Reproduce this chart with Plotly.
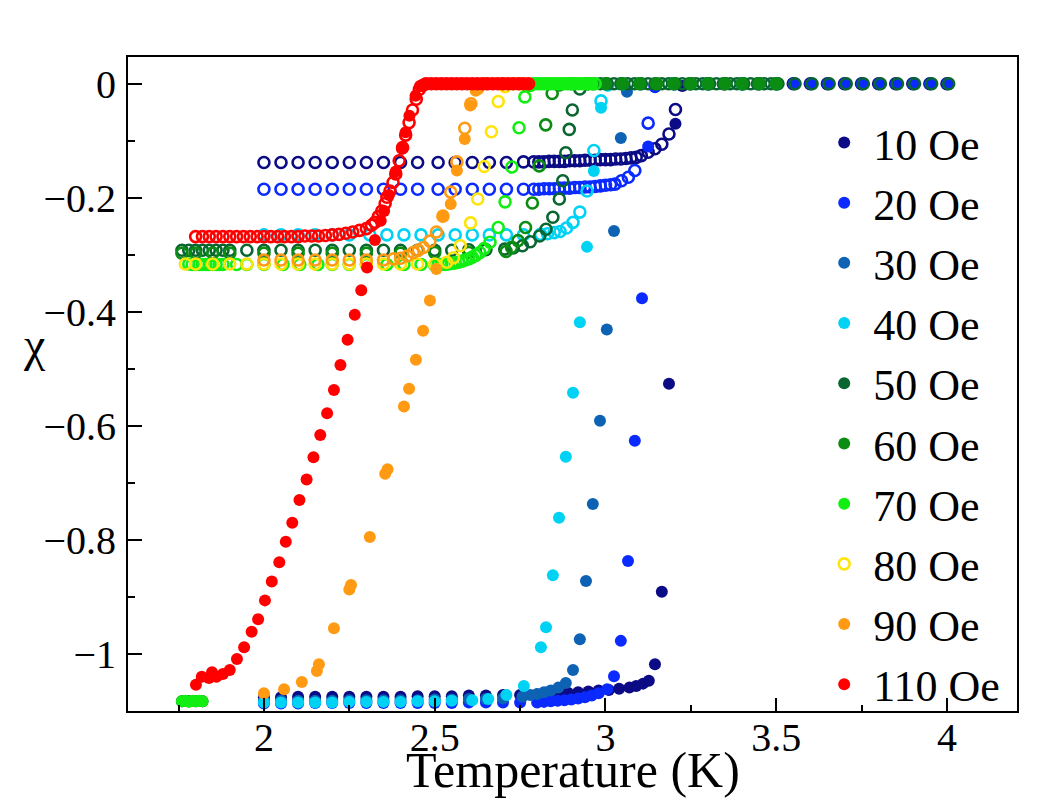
import plotly.graph_objects as go

# ---------------- data (T in K, chi) ----------------
fields = ["10 Oe", "20 Oe", "30 Oe", "40 Oe", "50 Oe", "60 Oe", "70 Oe", "80 Oe", "90 Oe", "110 Oe"]
colors = ["#0b0b85", "#0a2aff", "#0e62b4", "#00d2f4", "#0a6631", "#0b8c12", "#12ee12", "#ffe40a", "#ff9a12", "#ff0000"]

# zero-field-cooled (filled symbols)
zfc_10 = [(2.00,-1.076),(2.05,-1.076),(2.10,-1.075),(2.15,-1.075),(2.20,-1.075),(2.25,-1.075),(2.30,-1.075),(2.35,-1.075),(2.40,-1.075),(2.45,-1.074),(2.50,-1.074),(2.55,-1.074),(2.60,-1.073),(2.65,-1.073),(2.70,-1.072),(2.75,-1.072),(2.80,-1.071),(2.83,-1.070),(2.86,-1.069),(2.89,-1.068),(2.92,-1.067),(2.95,-1.066),(2.98,-1.064),(3.01,-1.063),(3.04,-1.061),(3.07,-1.059),(3.09,-1.056),(3.11,-1.052),(3.127,-1.047),(3.145,-1.018),(3.165,-0.891),(3.186,-0.526),(3.205,-0.070),(3.225,-0.004),(3.30,0.0),(3.40,0.0),(3.50,0.0),(3.55,0.0),(3.60,0.0),(3.65,0.0),(3.70,0.0),(3.75,0.0),(3.80,0.0),(3.85,0.0),(3.90,0.0),(3.95,0.0),(4.00,0.0)]
zfc_20 = [(2.00,-1.087),(2.05,-1.087),(2.10,-1.087),(2.15,-1.086),(2.20,-1.086),(2.25,-1.086),(2.30,-1.086),(2.35,-1.086),(2.40,-1.086),(2.45,-1.086),(2.50,-1.086),(2.55,-1.086),(2.60,-1.085),(2.65,-1.085),(2.70,-1.085),(2.75,-1.085),(2.80,-1.085),(2.82,-1.084),(2.84,-1.083),(2.86,-1.082),(2.88,-1.081),(2.90,-1.080),(2.92,-1.078),(2.94,-1.076),(2.96,-1.073),(2.98,-1.069),(3.005,-1.062),(3.025,-1.039),(3.045,-0.977),(3.066,-0.837),(3.086,-0.626),(3.107,-0.376),(3.125,-0.110),(3.145,-0.006),(3.20,0.0),(3.30,0.0),(3.40,0.0),(3.50,0.0),(3.55,0.0),(3.60,0.0),(3.65,0.0),(3.70,0.0),(3.75,0.0),(3.80,0.0),(3.85,0.0),(3.90,0.0),(3.95,0.0),(4.00,0.0)]
zfc_30 = [(2.00,-1.082),(2.05,-1.082),(2.10,-1.082),(2.15,-1.082),(2.20,-1.082),(2.25,-1.081),(2.30,-1.081),(2.35,-1.081),(2.40,-1.081),(2.45,-1.081),(2.50,-1.080),(2.55,-1.080),(2.60,-1.079),(2.65,-1.079),(2.70,-1.078),(2.757,-1.075),(2.78,-1.072),(2.80,-1.070),(2.82,-1.067),(2.84,-1.064),(2.862,-1.059),(2.884,-1.051),(2.905,-1.028),(2.925,-0.974),(2.943,-0.872),(2.963,-0.737),(2.984,-0.591),(3.004,-0.431),(3.025,-0.258),(3.045,-0.095),(3.063,-0.014),(3.10,0.0),(3.20,0.0),(3.30,0.0),(3.40,0.0),(3.50,0.0)]
zfc_40 = [(2.00,-1.085),(2.05,-1.085),(2.10,-1.085),(2.15,-1.085),(2.20,-1.085),(2.25,-1.084),(2.30,-1.084),(2.35,-1.084),(2.40,-1.084),(2.45,-1.083),(2.50,-1.083),(2.55,-1.082),(2.61,-1.081),(2.657,-1.079),(2.71,-1.072),(2.761,-1.056),(2.811,-0.988),(2.826,-0.953),(2.846,-0.862),(2.864,-0.761),(2.884,-0.654),(2.905,-0.542),(2.925,-0.418),(2.946,-0.286),(2.966,-0.153),(2.987,-0.042),(3.007,-0.003),(3.05,0.0),(3.10,0.0),(3.20,0.0),(3.30,0.0),(3.40,0.0),(3.50,0.0)]
zfc_50 = [(1.76,-1.083),(1.78,-1.083),(1.80,-1.083),(1.82,-1.083),(2.95,0.0),(3.00,0.0),(3.05,0.0),(3.10,0.0),(3.15,0.0),(3.20,0.0),(3.25,0.0),(3.30,0.0),(3.35,0.0),(3.40,0.0),(3.45,0.0),(3.50,0.0)]
zfc_60 = [(1.76,-1.083),(1.78,-1.083),(1.80,-1.083),(1.82,-1.083),(2.88,0.0),(2.92,0.0),(2.96,0.0),(3.00,0.0),(3.05,0.0),(3.10,0.0),(3.15,0.0),(3.20,0.0),(3.25,0.0),(3.30,0.0),(3.35,0.0),(3.40,0.0),(3.45,0.0),(3.50,0.0)]
zfc_70 = [(1.76,-1.083),(1.77,-1.082),(1.78,-1.084),(1.79,-1.082),(1.80,-1.083),(1.81,-1.082),(1.82,-1.083),(2.78,0.0),(2.80,0.0),(2.82,0.0),(2.84,0.0),(2.86,0.0),(2.88,0.0),(2.90,0.0),(2.92,0.0),(2.94,0.0),(2.96,0.0)]
zfc_80 = []
zfc_90 = [(2.000,-1.069),(2.059,-1.062),(2.111,-1.049),(2.155,-1.030),(2.161,-1.018),(2.205,-0.955),(2.250,-0.887),(2.255,-0.879),(2.310,-0.795),(2.355,-0.684),(2.362,-0.676),(2.410,-0.566),(2.425,-0.535),(2.445,-0.484),(2.466,-0.433),(2.486,-0.380),(2.505,-0.325),(2.524,-0.232),(2.547,-0.211),(2.565,-0.152),(2.588,-0.097),(2.604,-0.038),(2.620,-0.012),(2.65,0.0),(2.70,0.0),(2.75,0.0)]
zfc_110 = [(1.801,-1.054),(1.818,-1.040),(1.839,-1.042),(1.848,-1.032),(1.861,-1.040),(1.880,-1.035),(1.900,-1.028),(1.921,-1.009),(1.942,-0.988),(1.964,-0.961),(1.983,-0.939),(2.003,-0.906),(2.023,-0.873),(2.045,-0.839),(2.064,-0.803),(2.083,-0.770),(2.104,-0.730),(2.125,-0.694),(2.145,-0.655),(2.165,-0.616),(2.185,-0.578),(2.205,-0.537),(2.224,-0.493),(2.245,-0.449),(2.266,-0.405),(2.285,-0.362),(2.302,-0.322),(2.325,-0.274),(2.342,-0.240),(2.352,-0.223),(2.366,-0.195),(2.386,-0.154),(2.404,-0.114),(2.415,-0.085),(2.426,-0.056),(2.444,-0.021),(2.457,-0.004),(2.47,0.0),(2.485,0.0),(2.50,0.0),(2.515,0.0),(2.53,0.0),(2.545,0.0),(2.56,0.0),(2.575,0.0),(2.59,0.0),(2.605,0.0),(2.62,0.0),(2.635,0.0),(2.65,0.0),(2.665,0.0),(2.68,0.0),(2.695,0.0),(2.71,0.0),(2.725,0.0),(2.74,0.0),(2.755,0.0),(2.77,0.0)]

# field-cooled (open symbols)
fc_10 = [(2.00,-0.138),(2.05,-0.138),(2.10,-0.138),(2.15,-0.138),(2.20,-0.138),(2.25,-0.138),(2.30,-0.138),(2.35,-0.138),(2.40,-0.138),(2.45,-0.138),(2.51,-0.138),(2.56,-0.138),(2.61,-0.138),(2.66,-0.138),(2.71,-0.138),(2.76,-0.137),(2.79,-0.137),(2.805,-0.137),(2.82,-0.137),(2.835,-0.136),(2.85,-0.136),(2.865,-0.136),(2.88,-0.136),(2.895,-0.135),(2.91,-0.135),(2.925,-0.135),(2.94,-0.134),(2.955,-0.134),(2.97,-0.134),(2.985,-0.133),(3.00,-0.133),(3.015,-0.133),(3.03,-0.132),(3.045,-0.132),(3.06,-0.131),(3.075,-0.130),(3.09,-0.129),(3.105,-0.126),(3.125,-0.120),(3.145,-0.114),(3.165,-0.106),(3.186,-0.088),(3.205,-0.045),(3.25,0.0),(3.30,0.0),(3.35,0.0),(3.40,0.0),(3.45,0.0),(3.50,0.0),(3.55,0.0),(3.60,0.0),(3.65,0.0),(3.70,0.0),(3.75,0.0),(3.80,0.0),(3.85,0.0),(3.90,0.0),(3.95,0.0),(4.00,0.0)]
fc_20 = [(2.00,-0.185),(2.05,-0.185),(2.10,-0.185),(2.15,-0.185),(2.20,-0.185),(2.25,-0.185),(2.30,-0.185),(2.35,-0.185),(2.40,-0.185),(2.45,-0.185),(2.51,-0.185),(2.56,-0.185),(2.61,-0.185),(2.66,-0.185),(2.71,-0.185),(2.76,-0.185),(2.79,-0.185),(2.805,-0.185),(2.82,-0.184),(2.835,-0.184),(2.85,-0.184),(2.865,-0.183),(2.88,-0.183),(2.895,-0.183),(2.91,-0.182),(2.925,-0.182),(2.94,-0.181),(2.955,-0.181),(2.97,-0.180),(2.985,-0.179),(3.00,-0.178),(3.015,-0.177),(3.028,-0.176),(3.047,-0.170),(3.067,-0.164),(3.086,-0.152),(3.125,-0.069),(3.145,-0.003),(3.20,0.0),(3.30,0.0),(3.40,0.0),(3.50,0.0)]
fc_30 = []
fc_40 = [(2.00,-0.265),(2.05,-0.265),(2.10,-0.265),(2.15,-0.265),(2.20,-0.265),(2.25,-0.265),(2.31,-0.265),(2.36,-0.265),(2.41,-0.265),(2.46,-0.265),(2.51,-0.265),(2.56,-0.265),(2.61,-0.265),(2.66,-0.265),(2.71,-0.265),(2.76,-0.265),(2.81,-0.264),(2.83,-0.263),(2.85,-0.261),(2.867,-0.259),(2.886,-0.253),(2.905,-0.243),(2.925,-0.225),(2.946,-0.188),(2.966,-0.117),(2.987,-0.030),(3.007,-0.002),(3.05,0.0),(3.10,0.0),(3.20,0.0),(3.30,0.0),(3.40,0.0),(3.50,0.0)]
fc_50 = [(1.76,-0.292),(1.78,-0.292),(1.80,-0.292),(1.82,-0.292),(1.84,-0.292),(1.86,-0.292),(1.88,-0.292),(1.90,-0.292),(1.95,-0.292),(2.00,-0.292),(2.05,-0.292),(2.10,-0.292),(2.15,-0.292),(2.20,-0.292),(2.25,-0.292),(2.30,-0.292),(2.35,-0.292),(2.40,-0.292),(2.45,-0.292),(2.50,-0.292),(2.55,-0.292),(2.60,-0.291),(2.65,-0.291),(2.705,-0.290),(2.73,-0.288),(2.757,-0.284),(2.78,-0.277),(2.807,-0.267),(2.826,-0.255),(2.846,-0.234),(2.865,-0.202),(2.875,-0.170),(2.884,-0.121),(2.894,-0.080),(2.903,-0.046),(2.925,-0.009),(2.945,0.0),(2.965,0.0),(2.985,0.0),(3.005,0.0),(3.025,0.0),(3.045,0.0),(3.065,0.0),(3.085,0.0),(3.105,0.0),(3.125,0.0),(3.145,0.0),(3.165,0.0),(3.185,0.0),(3.205,0.0),(3.225,0.0),(3.245,0.0),(3.265,0.0),(3.285,0.0),(3.305,0.0),(3.325,0.0),(3.345,0.0),(3.365,0.0),(3.385,0.0),(3.405,0.0),(3.425,0.0),(3.445,0.0),(3.465,0.0),(3.485,0.0),(3.505,0.0),(3.555,0.0),(3.605,0.0),(3.655,0.0),(3.705,0.0),(3.755,0.0),(3.805,0.0),(3.855,0.0),(3.905,0.0),(3.955,0.0),(4.005,0.0)]
fc_60 = [(1.76,-0.297),(1.80,-0.297),(1.85,-0.297),(1.90,-0.297),(2.00,-0.297),(2.10,-0.297),(2.20,-0.297),(2.30,-0.297),(2.40,-0.297),(2.50,-0.296),(2.60,-0.296),(2.709,-0.294),(2.725,-0.287),(2.744,-0.275),(2.766,-0.252),(2.786,-0.209),(2.806,-0.144),(2.825,-0.072),(2.844,-0.017),(2.865,-0.002),(2.90,0.0),(2.95,0.0),(3.00,0.0),(3.05,0.0),(3.10,0.0),(3.15,0.0),(3.20,0.0),(3.25,0.0),(3.30,0.0),(3.35,0.0),(3.40,0.0),(3.45,0.0),(3.50,0.0)]
fc_70 = [(1.78,-0.316),(1.79,-0.317),(1.80,-0.317),(1.81,-0.317),(1.82,-0.317),(1.83,-0.317),(1.84,-0.317),(1.85,-0.317),(1.86,-0.317),(1.87,-0.317),(1.88,-0.317),(1.92,-0.317),(1.95,-0.317),(2.00,-0.317),(2.056,-0.317),(2.105,-0.317),(2.158,-0.317),(2.20,-0.317),(2.25,-0.317),(2.30,-0.317),(2.36,-0.317),(2.41,-0.317),(2.46,-0.317),(2.50,-0.318),(2.51,-0.318),(2.52,-0.317),(2.53,-0.317),(2.54,-0.316),(2.55,-0.315),(2.56,-0.314),(2.57,-0.313),(2.58,-0.311),(2.59,-0.309),(2.60,-0.307),(2.61,-0.304),(2.62,-0.301),(2.632,-0.296),(2.645,-0.289),(2.662,-0.278),(2.686,-0.252),(2.706,-0.207),(2.726,-0.146),(2.747,-0.077),(2.764,-0.023),(2.78,-0.003),(2.79,0.0),(2.80,0.0),(2.81,0.0),(2.82,0.0),(2.83,0.0),(2.84,0.0),(2.85,0.0),(2.86,0.0),(2.87,0.0),(2.88,0.0),(2.89,0.0),(2.90,0.0),(2.91,0.0),(2.92,0.0),(2.93,0.0),(2.94,0.0),(2.95,0.0),(2.96,0.0),(2.97,0.0)]
fc_80 = [(1.77,-0.316),(1.80,-0.316),(1.85,-0.316),(1.90,-0.316),(1.95,-0.316),(2.00,-0.316),(2.05,-0.316),(2.10,-0.316),(2.15,-0.316),(2.20,-0.316),(2.25,-0.316),(2.30,-0.316),(2.35,-0.316),(2.40,-0.316),(2.45,-0.316),(2.50,-0.316),(2.535,-0.313),(2.555,-0.305),(2.575,-0.284),(2.605,-0.244),(2.626,-0.202),(2.645,-0.145),(2.666,-0.084),(2.686,-0.031),(2.706,-0.005),(2.73,0.0),(2.75,0.0)]
fc_90 = [(2.00,-0.309),(2.05,-0.309),(2.10,-0.309),(2.15,-0.309),(2.20,-0.309),(2.25,-0.309),(2.30,-0.309),(2.35,-0.309),(2.38,-0.307),(2.40,-0.306),(2.42,-0.302),(2.437,-0.296),(2.452,-0.292),(2.467,-0.287),(2.486,-0.276),(2.505,-0.260),(2.524,-0.232),(2.547,-0.190),(2.565,-0.137),(2.588,-0.078),(2.606,-0.035),(2.626,-0.008),(2.65,0.0),(2.70,0.0),(2.75,0.0)]
fc_110 = [(1.80,-0.268),(1.82,-0.268),(1.84,-0.268),(1.86,-0.268),(1.88,-0.268),(1.90,-0.268),(1.92,-0.268),(1.94,-0.268),(1.96,-0.268),(1.98,-0.268),(2.00,-0.268),(2.02,-0.268),(2.04,-0.268),(2.06,-0.268),(2.08,-0.268),(2.10,-0.268),(2.12,-0.267),(2.14,-0.267),(2.16,-0.267),(2.18,-0.266),(2.20,-0.265),(2.22,-0.264),(2.24,-0.262),(2.26,-0.260),(2.28,-0.257),(2.30,-0.254),(2.315,-0.248),(2.325,-0.243),(2.335,-0.233),(2.345,-0.223),(2.355,-0.210),(2.36,-0.199),(2.369,-0.188),(2.378,-0.173),(2.386,-0.158),(2.396,-0.135),(2.406,-0.112),(2.415,-0.090),(2.425,-0.068),(2.435,-0.046),(2.446,-0.027),(2.455,-0.010),(2.465,-0.003),(2.475,0.0),(2.49,0.0),(2.505,0.0),(2.52,0.0),(2.535,0.0),(2.55,0.0),(2.565,0.0),(2.58,0.0),(2.595,0.0),(2.61,0.0),(2.625,0.0),(2.64,0.0),(2.655,0.0),(2.67,0.0),(2.685,0.0),(2.70,0.0),(2.715,0.0),(2.73,0.0),(2.745,0.0),(2.76,0.0),(2.775,0.0)]

zfc_sets = [zfc_10, zfc_20, zfc_30, zfc_40, zfc_50, zfc_60, zfc_70, zfc_80, zfc_90, zfc_110]
fc_sets = [fc_10, fc_20, fc_30, fc_40, fc_50, fc_60, fc_70, fc_80, fc_90, fc_110]

x_range = [1.602, 4.205]
y_range = [-1.1, 0.047]

FONT = "Liberation Serif"

fig = go.Figure()
for i, (name, col) in enumerate(zip(fields, colors)):
    z = zfc_sets[i]
    f = fc_sets[i]
    fc_in_legend = len(z) == 0
    if z:
        fig.add_trace(go.Scatter(
            x=[p[0] for p in z], y=[p[1] for p in z], mode="markers", name=name,
            legendgroup=name, legendrank=i + 1, showlegend=True,
            marker=dict(symbol="circle", size=12, color=col, line=dict(width=0))))
    if f:
        fig.add_trace(go.Scatter(
            x=[p[0] for p in f], y=[p[1] for p in f], mode="markers", name=name,
            legendgroup=name, legendrank=i + 1, showlegend=fc_in_legend,
            marker=dict(symbol="circle-open", size=11, color=col, line=dict(width=2.6, color=col))))

axis_common = dict(
    showline=True, linecolor="black", linewidth=2, mirror=True,
    showgrid=False, zeroline=False, ticks="inside", tickcolor="black",
    tickwidth=2, tickfont=dict(family=FONT, size=40, color="black"),
)

fig.update_layout(
    width=1063, height=798,
    margin=dict(l=128, r=46, t=57, b=87),
    paper_bgcolor="white", plot_bgcolor="white",
    font=dict(family=FONT, color="black"),
    xaxis=dict(range=x_range, dtick=0.5, tick0=0, ticklen=13,
               minor=dict(dtick=0.25, ticks="inside", ticklen=6, tickwidth=1.5, tickcolor="black"),
               ticklabelstandoff=-10,
               **axis_common),
    yaxis=dict(range=y_range, dtick=0.2, tick0=0, ticklen=14,
               minor=dict(dtick=0.1, ticks="inside", ticklen=7, tickwidth=1.5, tickcolor="black"),
               ticklabelstandoff=2,
               **axis_common),
    legend=dict(x=0.773, y=0.923, xanchor="left", yanchor="top",
                font=dict(family=FONT, size=44, color="black"),
                bgcolor="rgba(0,0,0,0)", borderwidth=0, itemwidth=48,
                tracegroupgap=0),
    annotations=[
        dict(text="χ", xref="paper", yref="paper", x=-0.105, y=0.56,
             xanchor="center", yanchor="middle", showarrow=False,
             font=dict(family=FONT, size=48, color="black")),
        dict(text="Temperature (K)", xref="paper", yref="paper", x=0.5, y=-0.0902,
             xanchor="center", yanchor="middle", showarrow=False,
             font=dict(family=FONT, size=50, color="black")),
    ],
)

fig.write_html("out.html")
